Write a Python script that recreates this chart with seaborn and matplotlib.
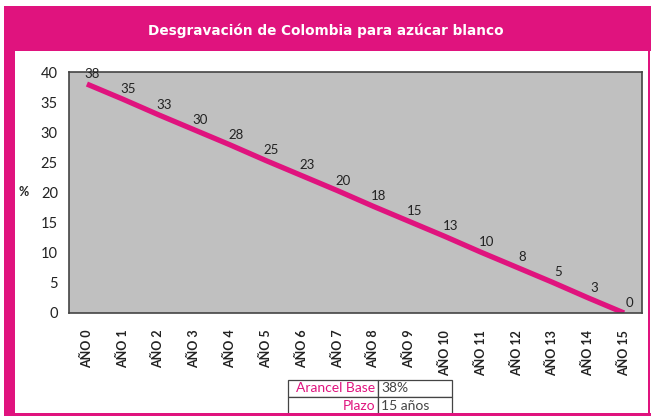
import matplotlib
matplotlib.use('Agg')
import matplotlib.pyplot as plt
import seaborn as sns
import pandas as pd
from matplotlib.patches import Rectangle

# Data
years = ['AÑO 0', 'AÑO 1', 'AÑO 2', 'AÑO 3', 'AÑO 4', 'AÑO 5', 'AÑO 6', 'AÑO 7',
         'AÑO 8', 'AÑO 9', 'AÑO 10', 'AÑO 11', 'AÑO 12', 'AÑO 13', 'AÑO 14', 'AÑO 15']
arancel = [38, 35.5, 32.9, 30.4, 27.9, 25.3, 22.8, 20.3,
           17.7, 15.2, 12.7, 10.1, 7.6, 5.1, 2.5, 0]
point_labels = ['38', '35', '33', '30', '28', '25', '23', '20',
                '18', '15', '13', '10', '8', '5', '3', '0']
table_rows = ['Arancel Base', 'Plazo']
table_vals = ['38%', '15 años']
title = 'Desgravación de Colombia para azúcar blanco'

MAGENTA = '#E0137E'

sns.set_style('white')
plt.rcParams['font.family'] = ['Lato', 'DejaVu Sans']

df = pd.DataFrame({'year': years, 'arancel': arancel})
df['pos'] = range(len(df))

fig = plt.figure(figsize=(6.51, 4.17), dpi=100)
W, H = 651, 417

# frame: title band, left band, thin right and bottom borders
fig.patches.append(Rectangle((4 / W, 1 - 51 / H), 647 / W, 45 / H, transform=fig.transFigure,
                             facecolor=MAGENTA, edgecolor='none', zorder=0))
fig.patches.append(Rectangle((4 / W, 1 - 416 / H), 11 / W, 365 / H, transform=fig.transFigure,
                             facecolor=MAGENTA, edgecolor='none', zorder=0))
fig.patches.append(Rectangle((4 / W, 1 - 416 / H), 647 / W, 3 / H, transform=fig.transFigure,
                             facecolor=MAGENTA, edgecolor='none', zorder=0))
fig.patches.append(Rectangle((648 / W, 1 - 416 / H), 2 / W, 365 / H, transform=fig.transFigure,
                             facecolor=MAGENTA, edgecolor='none', zorder=0))
fig.text(0.5, 1 - 31 / H, title, color='white', fontsize=9.8, fontweight='bold',
         family='DejaVu Sans', ha='center', va='center')

ax = fig.add_axes([69 / W, 1 - 313 / H, 573 / W, 241 / H])
ax.set_facecolor('#C0C0C0')
sns.lineplot(data=df, x='pos', y='arancel', color=MAGENTA, linewidth=3.8, ax=ax,
             solid_capstyle='butt')
for x, y, lab in zip(df['pos'], df['arancel'], point_labels):
    ax.annotate(lab, (x, y), xytext=(4, 3), textcoords='offset points',
                ha='center', va='bottom', fontsize=9.5, color='#222222')

ax.set_xlim(-0.5, 15.5)
ax.set_ylim(0, 40)
ax.set_yticks(range(0, 41, 5))
ax.set_xticks(df['pos'])
ax.set_xticklabels(years, rotation=90, fontsize=9, fontweight='bold', color='#222222')
ax.tick_params(axis='x', length=0, pad=12)
ax.tick_params(axis='y', length=0, pad=8, labelsize=10.5, labelcolor='#222222')
ax.set_xlabel('')
ax.set_ylabel('%', rotation=0, fontsize=9, fontweight='bold', labelpad=12, va='center')
for s in ax.spines.values():
    s.set_color('#444444')
    s.set_linewidth(1.2)

# small summary table
tax = fig.add_axes([288 / W, 1 - 414 / H, 165 / W, 34 / H])
tax.set_xlim(0, 165)
tax.set_ylim(0, 34)
tax.axis('off')
for i, (r, v) in enumerate(zip(table_rows, table_vals)):
    y0 = 17 * (1 - i)
    tax.add_patch(Rectangle((0, y0), 90, 17, facecolor='white', edgecolor='#444444',
                            lw=0.9, clip_on=False))
    tax.add_patch(Rectangle((90, y0), 74, 17, facecolor='white', edgecolor='#444444',
                            lw=0.9, clip_on=False))
    tax.text(87, y0 + 8.5, r, ha='right', va='center', color=MAGENTA, fontsize=10)
    tax.text(93, y0 + 8.5, v, ha='left', va='center', color='#444444', fontsize=10)

fig.savefig('out.png', dpi=100)
